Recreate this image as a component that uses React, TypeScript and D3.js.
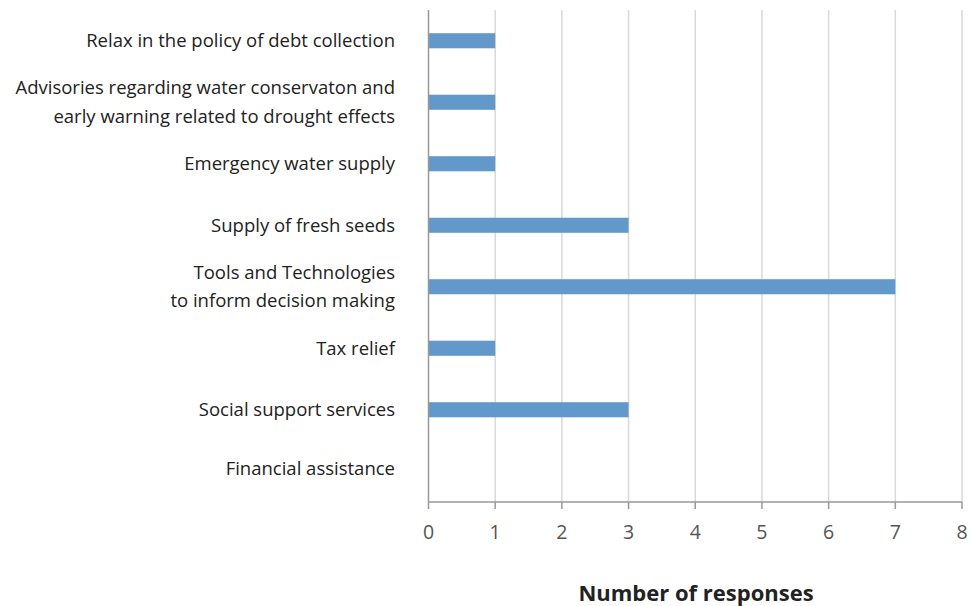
import React from "react";
import * as d3 from "d3";

const categories: string[][] = [
  ["Relax in the policy of debt collection"],
  ["Advisories regarding water conservaton and", "early warning related to drought effects"],
  ["Emergency water supply"],
  ["Supply of fresh seeds"],
  ["Tools and Technologies", "to inform decision making"],
  ["Tax relief"],
  ["Social support services"],
  ["Financial assistance"],
];
const values: number[] = [1, 1, 1, 3, 7, 1, 3, 0];
const xTicks: number[] = [0, 1, 2, 3, 4, 5, 6, 7, 8];
const xTitle = "Number of responses";

const W = 971;
const H = 606;
const m = { left: 428.5, right: 9, top: 10, bottom: 104 };

export default function App() {
  const x = d3.scaleLinear().domain([0, 8]).range([m.left, W - m.right]);
  const keys = categories.map((_, i) => String(i));
  const y = d3
    .scaleBand<string>()
    .domain(keys)
    .range([m.top, H - m.bottom])
    .paddingInner(0.755)
    .paddingOuter(0.3775);
  const y0 = H - m.bottom;
  const font = "'Open Sans', 'Noto Sans', sans-serif";
  return (
    <svg width={W} height={H} style={{ position: "absolute", left: 0, top: 0 }} fontFamily={font}>
      <rect width={W} height={H} fill="#fff" />
      {xTicks.filter((t) => t > 0).map((t) => (
        <line key={"g" + t} x1={x(t)} x2={x(t)} y1={m.top} y2={y0} stroke="#d9d9d9" strokeWidth={1.5} />
      ))}
      {values.map((v, i) =>
        v > 0 ? (
          <rect key={"b" + i} x={x(0)} y={y(String(i))} width={x(v) - x(0)} height={y.bandwidth()} fill="#6398cb" />
        ) : null
      )}
      <line x1={x(0)} x2={x(0)} y1={m.top} y2={y0} stroke="#999" strokeWidth={1.5} />
      <line x1={x(0)} x2={x(8)} y1={y0} y2={y0} stroke="#999" strokeWidth={1.5} />
      {xTicks.map((t) => (
        <g key={"t" + t}>
          <line x1={x(t)} x2={x(t)} y1={y0} y2={y0 + 7} stroke="#999" strokeWidth={1.5} />
          <text x={x(t)} y={y0 + 37} textAnchor="middle" fontSize={19.5} fill="#555">
            {t}
          </text>
        </g>
      ))}
      {categories.map((lines, i) => {
        const cy = (y(String(i)) as number) + y.bandwidth() / 2 - (i === 7 ? 3 : 0);
        const lh = 28.5;
        const start = cy - ((lines.length - 1) * lh) / 2;
        return (
          <text key={"c" + i} textAnchor="end" fontSize={18.5} fill="#222">
            {lines.map((l, j) => (
              <tspan key={j} x={395} y={start + j * lh} dy="0.35em">
                {l}
              </tspan>
            ))}
          </text>
        );
      })}
      <text x={696} y={601} textAnchor="middle" fontSize={22} fontWeight="bold" fill="#222">
        {xTitle}
      </text>
    </svg>
  );
}
